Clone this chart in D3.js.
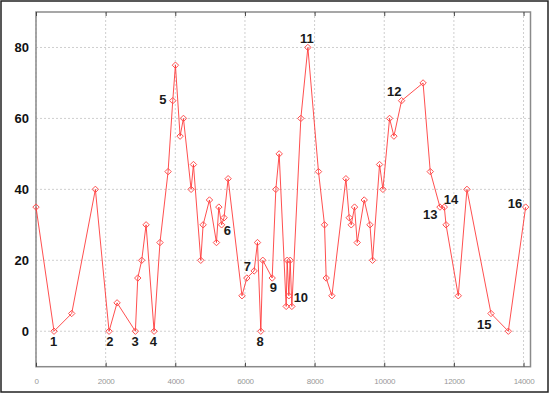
<!DOCTYPE html>
<html>
<head>
<meta charset="utf-8">
<script src="https://cdn.jsdelivr.net/npm/d3@7"></script>
<style>
  html, body { margin: 0; padding: 0; background: #fff; }
  svg { display: block; }
</style>
</head>
<body>
<svg id="chart" width="550" height="395"></svg>
<script>
// ---- data ----
const xValues = [0, 517, 1025, 1705, 2098, 2328, 2854, 2922, 3036, 3161, 3391, 3560, 3793, 3927, 4004, 4138, 4234, 4454, 4521, 4732, 4799, 4981, 5182, 5250, 5330, 5400, 5517, 5915, 6054, 6264, 6360, 6456, 6513, 6782, 6887, 6983, 7184, 7213, 7261, 7299, 7347, 7605, 7807, 8112, 8285, 8333, 8497, 8900, 8994, 9052, 9147, 9224, 9425, 9590, 9665, 9866, 9962, 10153, 10278, 10498, 11115, 11322, 11600, 11725, 11775, 12126, 12375, 13066, 13563, 14061];
const yValues = [35, 0, 5, 40, 0, 8, 0, 15, 20, 30, 0, 25, 45, 65, 75, 55, 60, 40, 47, 20, 30, 37, 25, 35, 30, 32, 43, 10, 15, 17, 25, 0, 20, 15, 40, 50, 7, 20, 10, 20, 7, 60, 80, 45, 30, 15, 10, 43, 32, 30, 35, 25, 37, 30, 20, 47, 40, 60, 55, 65, 70, 45, 35, 35, 30, 10, 40, 5, 0, 35];
const labelNames = ["1", "2", "3", "4", "5", "6", "7", "8", "9", "10", "11", "12", "13", "14", "15", "16"];
const labelX = [505, 2118, 2845, 3371, 3641, 5497, 6072, 6437, 6819, 7606, 7779, 10287, 11322, 11917, 12874, 13756];
const labelY = [-2.9, -2.9, -2.9, -2.9, 65.2, 28.3, 18.2, -2.9, 12.4, 9.5, 82.5, 67.5, 33, 37, 2, 36];
const xTicks = [0, 2000, 4000, 6000, 8000, 10000, 12000, 14000];
const yTicks = [0, 20, 40, 60, 80];

const svg = d3.select("#chart");
const W = 550, H = 395;
const L = 36, R = 530.5, T = 12, B = 366.7;

const x = d3.scaleLinear().domain([0, 14200]).range([L, R]);
const y = d3.scaleLinear().domain([-10, 90]).range([B, T]);

// outer border
svg.append("rect").attr("x", 1).attr("y", 1).attr("width", W - 3).attr("height", H - 4)
  .attr("fill", "#fff").attr("stroke", "#222").attr("stroke-width", 1.5);

// grid
const grid = svg.append("g");
grid.selectAll("line.gx").data(xTicks).join("line")
  .attr("x1", d => x(d)).attr("x2", d => x(d)).attr("y1", T).attr("y2", B)
  .attr("stroke", "#cfcfcf").attr("stroke-width", 1).attr("stroke-dasharray", "2,2");
grid.selectAll("line.gy").data(yTicks).join("line")
  .attr("x1", L).attr("x2", R).attr("y1", d => y(d)).attr("y2", d => y(d))
  .attr("stroke", "#cfcfcf").attr("stroke-width", 1).attr("stroke-dasharray", "2,2");

// frame
svg.append("rect").attr("x", L).attr("y", T).attr("width", R - L).attr("height", B - T)
  .attr("fill", "none").attr("stroke", "#8a8a8a").attr("stroke-width", 1.5);

// axes
const xAxis = d3.axisBottom(x).tickValues(xTicks).tickSize(-4).tickPadding(12).tickFormat(d3.format("d"));
const gx = svg.append("g").attr("transform", `translate(0,${B})`).call(xAxis);
gx.select(".domain").remove();
gx.selectAll(".tick line").attr("stroke", "#444");
gx.selectAll("text").attr("fill", "#999").attr("font-family", "Liberation Sans, Arial, sans-serif")
  .attr("font-size", 8).attr("letter-spacing", "-0.3");

const gxTop = svg.append("g").attr("transform", `translate(0,${T})`)
  .call(d3.axisTop(x).tickValues(xTicks).tickSize(-4).tickFormat(""));
gxTop.select(".domain").remove();
gxTop.selectAll(".tick line").attr("stroke", "#444");

const yAxis = d3.axisLeft(y).tickValues(yTicks).tickSize(0).tickPadding(7);
const gy = svg.append("g").attr("transform", `translate(${L},0)`).call(yAxis);
gy.select(".domain").remove();
gy.selectAll("text").attr("fill", "#111").attr("font-family", "Liberation Sans, Arial, sans-serif")
  .attr("font-size", 13).attr("font-weight", "bold");

// series
const pts = xValues.map((v, i) => [v, yValues[i]]);
const line = d3.line().x(d => x(d[0])).y(d => y(d[1]));
svg.append("path").datum(pts).attr("d", line)
  .attr("fill", "none").attr("stroke", "#ff3030").attr("stroke-width", 1).attr("stroke-opacity", 0.85);

const diamond = "M0,-3.2L3.2,0L0,3.2L-3.2,0Z";
svg.append("g").selectAll("path").data(pts).join("path")
  .attr("transform", d => `translate(${x(d[0])},${y(d[1])})`)
  .attr("d", diamond).attr("fill", "none").attr("stroke", "#ff5050").attr("stroke-width", 1);

// labels
svg.append("g").selectAll("text").data(labelNames).join("text")
  .attr("x", (d, i) => x(labelX[i])).attr("y", (d, i) => y(labelY[i]))
  .attr("text-anchor", "middle").attr("dominant-baseline", "central")
  .attr("font-family", "Liberation Sans, Arial, sans-serif").attr("font-size", 13)
  .attr("font-weight", "bold").attr("fill", "#1a1a1a")
  .text(d => d);
</script>
</body>
</html>
